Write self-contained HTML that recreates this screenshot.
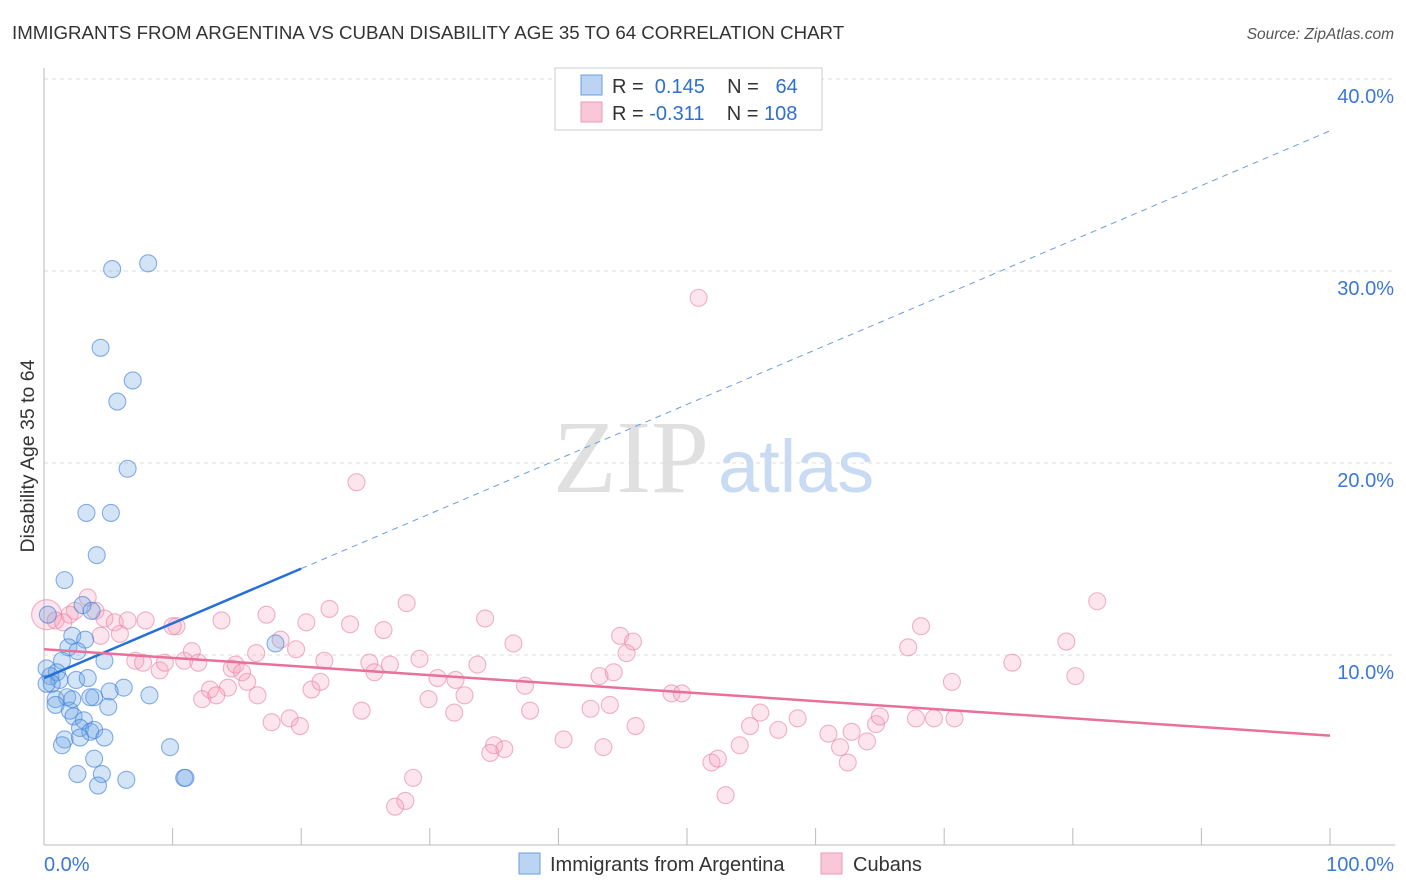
<!DOCTYPE html>
<html><head><meta charset="utf-8"><style>
body{margin:0;background:#fff;font-family:"Liberation Sans",sans-serif}
svg{display:block}
</style></head><body>
<svg id="chart" width="1406" height="892" xmlns="http://www.w3.org/2000/svg">
<text x="12" y="39" font-size="18.7" fill="#333">IMMIGRANTS FROM ARGENTINA VS CUBAN DISABILITY AGE 35 TO 64 CORRELATION CHART</text>
<text x="1394" y="39" font-size="15.5" fill="#555" text-anchor="end" font-style="italic">Source: ZipAtlas.com</text>
<g>
<text x="553" y="492" font-size="104" font-family="Liberation Serif,serif" fill="#e0e0e0">ZIP</text>
<text x="718" y="492" font-size="74" fill="#c8dbf2">atlas</text>
</g>
<g id="grid"></g>
<g id="axes"></g>
<g id="pts"></g>
<g id="lines"></g>
<g>
<rect x="555" y="68" width="267" height="62" fill="#fff" stroke="#ccc"/>
<rect x="581" y="75" width="21" height="20" fill="#bcd4f4" stroke="#6a9ee0"/>
<rect x="581" y="102" width="21" height="20" fill="#f9c8d8" stroke="#ec9ab6"/>
<text x="612" y="93" font-size="20" fill="#333">R = <tspan fill="#2f6fd0">&#160;0.145</tspan>&#160;&#160;&#160;&#160;N = <tspan fill="#2f6fd0">&#160;&#160;64</tspan></text>
<text x="612" y="120" font-size="20" fill="#333">R = <tspan fill="#2f6fd0">-0.311</tspan>&#160;&#160;&#160;&#160;N = <tspan fill="#2f6fd0">108</tspan></text>
</g>
<text transform="translate(34,456) rotate(-90)" font-size="19.5" fill="#333" text-anchor="middle">Disability Age 35 to 64</text>
<g>
<rect x="519" y="853" width="21" height="21" fill="#bcd4f4" stroke="#6a9ee0"/>
<text x="550" y="871" font-size="20" fill="#333">Immigrants from Argentina</text>
<rect x="821" y="853" width="21" height="21" fill="#f9c8d8" stroke="#ec9ab6"/>
<text x="853" y="871" font-size="20" fill="#333">Cubans</text>
</g>
</svg>
<script>
const blueX=[5.3,8.1,4.4,6.9,5.7,6.5,3.3,5.2,4.1,1.6,3.0,3.7,0.3,2.2,3.2,1.9,2.6,18.0,1.4,4.7,0.2,1.0,0.5,1.2,0.6,2.5,3.4,6.2,5.1,3.9,8.2,0.9,1.8,3.6,5.0,0.9,2.0,2.3,3.1,2.8,3.6,3.9,1.6,2.8,4.7,1.4,9.8,3.9,2.6,4.5,4.2,6.4,10.9,11.0,0.2,2.2];
const blueY=[30.1,30.4,26.0,24.3,23.2,19.7,17.4,17.4,15.2,13.9,12.6,12.3,12.1,11.0,10.8,10.4,10.2,10.6,9.7,9.7,9.3,9.1,8.9,8.7,8.5,8.7,8.8,8.3,8.1,7.8,7.9,7.7,7.8,7.8,7.3,7.4,7.1,6.8,6.6,6.2,6.0,6.1,5.6,5.7,5.7,5.3,5.2,4.6,3.8,3.8,3.2,3.5,3.6,3.6,8.5,7.7];
const pinkX=[0.2,0.9,2.4,3.4,2.0,4.0,1.5,4.7,5.5,6.5,7.9,4.4,5.9,10.3,10.0,13.8,17.3,20.4,22.2,23.8,26.4,28.2,34.3,36.5,44.8,45.8,45.3,50.9,24.3,81.9,68.2,67.2,79.5,75.3,70.6,80.2,7.1,7.7,9.0,9.4,10.9,11.5,12.0,14.6,14.9,15.4,16.5,18.4,19.6,21.8,20.8,21.5,25.3,26.9,25.7,29.2,30.6,32.0,33.7,37.4,43.2,44.3,48.8,49.6,14.3,12.9,12.3,13.4,16.6,15.8,17.7,19.1,19.9,24.7,29.9,31.9,32.7,37.8,42.5,44.0,46.0,40.4,43.5,35.0,35.8,34.7,28.7,28.1,27.3,51.9,52.4,53.0,54.1,54.9,55.7,57.1,58.6,61.0,61.9,62.5,62.8,64.0,64.7,65.0,67.8,69.2,70.8];
const pinkY=[12.1,11.8,12.3,13.0,12.1,12.3,11.7,11.9,11.7,11.8,11.8,11.0,11.1,11.5,11.5,11.8,12.1,11.7,12.4,11.6,11.3,12.7,11.9,10.6,11.0,10.7,10.1,28.6,19.0,12.8,11.5,10.4,10.7,9.6,8.6,8.9,9.7,9.6,9.2,9.6,9.7,10.2,9.6,9.3,9.5,9.1,10.1,10.8,10.3,9.7,8.2,8.6,9.6,9.5,9.1,9.8,8.8,8.7,9.5,8.4,8.9,9.1,8.0,8.0,8.3,8.2,7.7,7.9,7.9,8.6,6.5,6.7,6.3,7.1,7.7,7.0,7.9,7.1,7.2,7.4,6.3,5.6,5.2,5.3,5.1,4.9,3.6,2.4,2.1,4.4,4.6,2.7,5.3,6.3,7.0,6.1,6.7,5.9,5.2,4.4,6.0,5.5,6.4,6.8,6.7,6.7,6.7];
const yTicks=[10,20,30,40];
const yTickLabels=["10.0%","20.0%","30.0%","40.0%"];
const xTicks=[0,10,20,30,40,50,60,70,80,90,100];
const blueFit=[8.8,0.285];   // intercept, slope
const pinkFit=[10.3,-0.045];

const NS="http://www.w3.org/2000/svg";
const sx=v=>44+v*12.86, sy=v=>847-v*19.2;
function mk(parent,tag,attrs){const e=document.createElementNS(NS,tag);for(const k in attrs)e.setAttribute(k,attrs[k]);document.getElementById(parent).appendChild(e);return e;}
yTicks.forEach((t,i)=>{
  const g=mk('grid','line',{x1:44,x2:1395,y1:sy(t),y2:sy(t),stroke:'#ddd','stroke-dasharray':'4,4'});
  
  
  const l=mk('grid','text',{x:1394,y:sy(t)+24,'font-size':20,fill:'#3a78d8','text-anchor':'end'});
  l.textContent=yTickLabels[i];
  
  
});
const ax=mk('axes','line',{x1:44,x2:44,y1:68,y2:845,stroke:'#bbb'});


const bx=mk('axes','line',{x1:44,x2:1395,y1:845,y2:845,stroke:'#bbb'});


xTicks.forEach(t=>{
  const tk=mk('axes','line',{x1:sx(t),x2:sx(t),y1:828,y2:845,stroke:'#bbb'});
  
  
});
const x0=mk('axes','text',{x:44,y:871,'font-size':20,fill:'#3a78d8'});x0.textContent='0.0%';


const x1=mk('axes','text',{x:1394,y:871,'font-size':20,fill:'#3a78d8','text-anchor':'end'});x1.textContent='100.0%';


pinkX.forEach((v,i)=>{
  const c=mk('pts','circle',{cx:sx(v),cy:sy(pinkY[i]),r:i===0?15:8.5,fill:'rgba(244,160,188,0.28)',stroke:'rgba(232,130,165,0.6)','stroke-width':1.1});
  
  
});
blueX.forEach((v,i)=>{
  const c=mk('pts','circle',{cx:sx(v),cy:sy(blueY[i]),r:8.5,fill:'rgba(110,165,230,0.3)',stroke:'rgba(60,125,215,0.6)','stroke-width':1.1});
  
  
});
const bl=mk('lines','line',{x1:sx(0),y1:sy(blueFit[0]),x2:sx(20),y2:sy(blueFit[0]+20*blueFit[1]),stroke:'#2470d8','stroke-width':2.5});


const bd=mk('lines','line',{x1:sx(20),y1:sy(blueFit[0]+20*blueFit[1]),x2:sx(100),y2:sy(blueFit[0]+100*blueFit[1]),stroke:'#6a9ee0','stroke-width':1,'stroke-dasharray':'6,5'});


const pl=mk('lines','line',{x1:sx(0),y1:sy(pinkFit[0]),x2:sx(100),y2:sy(pinkFit[0]+100*pinkFit[1]),stroke:'#e8709a','stroke-width':2.5});


</script>
</body></html>
